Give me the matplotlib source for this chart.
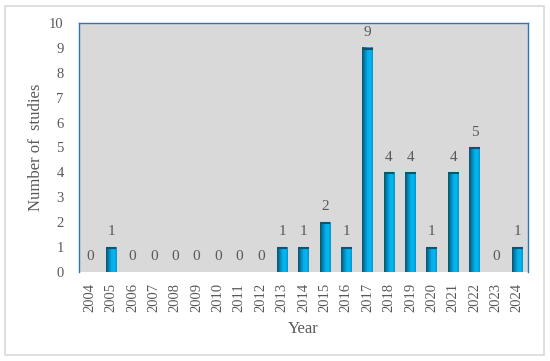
import numpy as np
import matplotlib.pyplot as plt
from matplotlib.colors import LinearSegmentedColormap
from matplotlib.patches import Rectangle

years = [str(y) for y in range(2004, 2025)]
studies = [0, 1, 0, 0, 0, 0, 0, 0, 0, 1, 1, 2, 1, 9, 4, 4, 1, 4, 5, 0, 1]

plt.rcParams['font.family'] = ['Liberation Serif', 'DejaVu Serif']
grey = '#595959'

fig = plt.figure(figsize=(5.5, 3.61), dpi=100)
fig.patches.append(Rectangle((5 / 550, 6 / 361), 539 / 550, 349 / 361,
                             transform=fig.transFigure, fill=False,
                             edgecolor='#d9d9d9', linewidth=1.2))
ax = fig.add_axes([79 / 550, 1 - 272 / 361, 449 / 550, 249 / 361])
ax.set_facecolor('#d9d9d9')

x = np.arange(len(years))
width = 0.5
cmap = LinearSegmentedColormap.from_list(
    'bevel', ['#0b4f6c', '#0a7fae', '#00aee8', '#08b8f2', '#0096cf'])
grad = np.linspace(0, 1, 64).reshape(1, -1)

bars = ax.bar(x, studies, width=width, color='#00a6e0', zorder=2)
for b, v in zip(bars, studies):
    if v > 0:
        x0 = b.get_x()
        ax.imshow(grad, cmap=cmap, aspect='auto', zorder=3,
                  extent=(x0, x0 + width, 0, v), interpolation='bilinear')
        ax.plot([x0, x0 + width], [v - 0.04, v - 0.04], color='#0b5573',
                linewidth=1.5, zorder=4, solid_capstyle='butt')
    ax.text(b.get_x() + width / 2, v + 0.35, str(v), ha='center', va='bottom',
            fontsize=11, color=grey)

ax.set_xlim(-0.5, len(years) - 0.5)
ax.set_ylim(0, 10)
ax.set_yticks(range(0, 11))
ax.set_xticks(x)
ax.set_xticklabels(years, rotation=90)
ax.tick_params(axis='both', length=0, labelsize=10.5, labelcolor=grey)
ax.tick_params(axis='y', pad=11)
ax.tick_params(axis='x', pad=8)

for s in ['left', 'top', 'right']:
    ax.spines[s].set_color('#2e75b6')
    ax.spines[s].set_linewidth(1)
ax.spines['bottom'].set_visible(False)

ax.set_xlabel('Year', fontsize=12, color=grey, labelpad=6)
ax.set_ylabel('Number of  studies', fontsize=12, color=grey, labelpad=4)

fig.savefig('out.png', dpi=100)
